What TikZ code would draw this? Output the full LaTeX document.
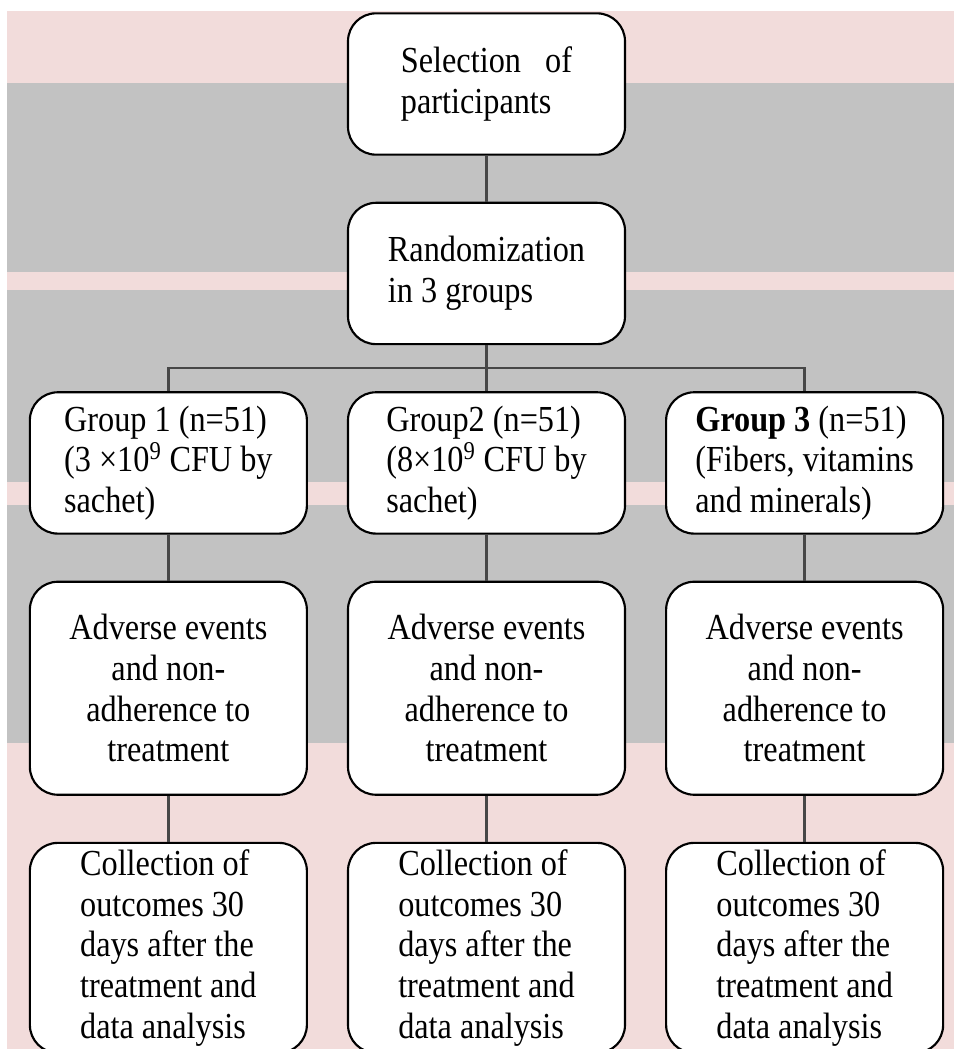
\documentclass[tikz,border=0pt]{standalone}
\usepackage{fontspec}
\setmainfont{Liberation Serif}[FakeStretch=0.88]
\usepackage{tikz}
\usetikzlibrary{calc}
\usetikzlibrary{positioning}
\definecolor{bandpink}{HTML}{F2DCDB}
\definecolor{bandgray}{HTML}{C2C2C2}
\tikzset{
stage/.style = {rectangle, draw=black, rounded corners=21pt, minimum width=207.75pt, align=left, fill=white, line width=1.6pt, font=\fontsize{27.5}{30.5}\selectfont, inner sep=4pt},
short/.style = {stage, minimum height=106pt},
tall/.style = {stage, minimum height=159.75pt, align=center},
longer/.style = {stage, minimum height=157.5pt},
link/.style = {line width=1.9pt, draw=black!72},
band/.style = {draw=none}
}

\begin{document}
\begin{tikzpicture}[x=0.75pt, y=-0.75pt, node distance=34.5pt and 29.25pt]

\useasboundingbox (0,0) rectangle (954,1049);

% background bands
\fill [band, bandpink] (7,11) rectangle (954,83);
\fill [band, bandgray] (7,83) rectangle (954,272);
\fill [band, bandpink] (7,272) rectangle (954,290);
\fill [band, bandgray] (7,290) rectangle (954,482);
\fill [band, bandpink] (7,482) rectangle (954,505);
\fill [band, bandgray] (7,505) rectangle (954,743);
\fill [band, bandpink] (7,743) rectangle (954,1049);

\node (select) [short] at (486.5,84) {Selection \ \ of\\participants};
\node (rand) [short, below=of select] {Randomization\\in 3 groups};

\node (grp2) [short, below=of rand] {Group2 (n=51)\\(8×10\textsuperscript{9} CFU by\\sachet)};
\node (grp1) [short, left=of grp2] {Group 1 (n=51)\\(3 ×10\textsuperscript{9} CFU by\\sachet)};
\node (grp3) [short, right=of grp2] {\textbf{Group 3} (n=51)\\(Fibers, vitamins\\and minerals)};

\node (adv1) [tall, below=of grp1] {Adverse events\\and non-\\adherence to\\treatment};
\node (adv2) [tall, below=of grp2] {Adverse events\\and non-\\adherence to\\treatment};
\node (adv3) [tall, below=of grp3] {Adverse events\\and non-\\adherence to\\treatment};

\node (coll1) [longer, below=of adv1] {Collection of\\outcomes 30\\days after the\\treatment and\\data analysis};
\node (coll2) [longer, below=of adv2] {Collection of\\outcomes 30\\days after the\\treatment and\\data analysis};
\node (coll3) [longer, below=of adv3] {Collection of\\outcomes 30\\days after the\\treatment and\\data analysis};

\draw [link] (select) -- (rand);
\coordinate (fork) at ($(rand.south)!0.5!(grp2.north)$);
\draw [link] (rand) -- (grp2);
\draw [link] (grp1.north) |- (fork) -| (grp3.north);

\draw [link] (grp1) -- (adv1);
\draw [link] (grp2) -- (adv2);
\draw [link] (grp3) -- (adv3);
\draw [link] (adv1) -- (coll1);
\draw [link] (adv2) -- (coll2);
\draw [link] (adv3) -- (coll3);

\end{tikzpicture}
\end{document}
